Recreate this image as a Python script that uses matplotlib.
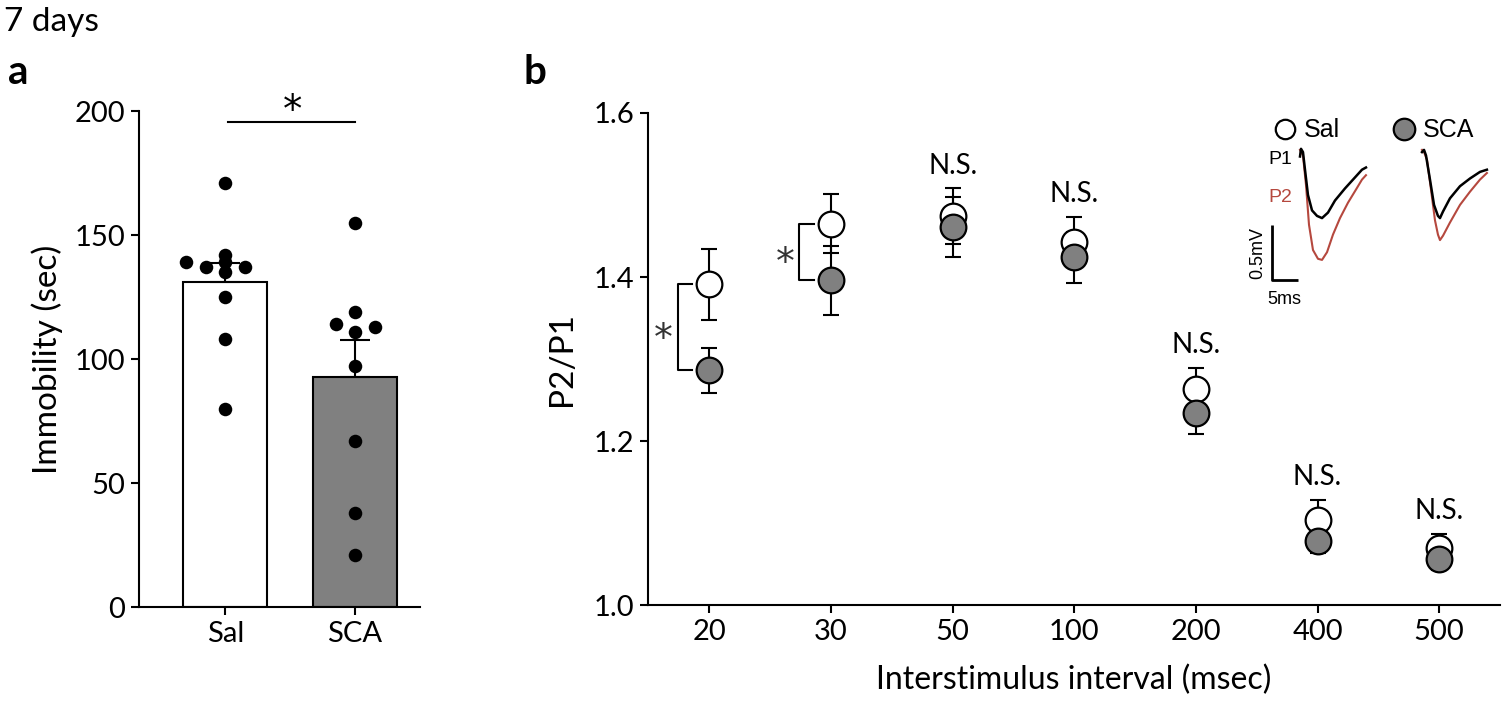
import numpy as np
import matplotlib
matplotlib.use('Agg')
import matplotlib.pyplot as plt

plt.rcParams['font.family'] = ['Lato', 'DejaVu Sans']

# panel a: immobility (sec), 7 days
groups = ['Sal', 'SCA']
bar_means = [131, 92.7]
bar_sems = [7.7, 14.8]
sal_points = [171, 142, 139, 137, 139, 135, 137, 125, 108, 80]
sal_jitter = [0, 0, -1, -0.5, 0, 0, 0.5, 0, 0, 0]
sca_points = [155, 119, 114, 113, 111, 97, 67, 38, 21]
sca_jitter = [0, 0, -0.5, 0.5, 0, 0, 0, 0, 0]

# panel b: paired-pulse ratio
intervals = ['20', '30', '50', '100', '200', '400', '500']
sal_ppr = [1.391, 1.465, 1.474, 1.443, 1.263, 1.104, 1.069]
sal_err = [0.043, 0.036, 0.034, 0.030, 0.026, 0.024, 0.018]
sca_ppr = [1.286, 1.396, 1.461, 1.424, 1.234, 1.078, 1.056]
sca_err = [0.027, 0.042, 0.037, 0.031, 0.025, 0.015, 0.013]
ns_labels = ['', '', 'N.S.', 'N.S.', 'N.S.', 'N.S.', 'N.S.']

# example traces (ms from trace onset, mV)
sal_p1_t = [0, 0.19, 0.56, 0.94, 1.5, 2.26, 3.2, 4.14, 5.26, 6.58, 8.46, 10.34, 11.65, 12.4]
sal_p1_v = [-0.15, -0.08, -0.11, -0.27, -0.5, -0.64, -0.69, -0.71, -0.66, -0.55, -0.44, -0.34, -0.27, -0.25]
sal_p2_t = [0, 0.56, 1.13, 1.69, 2.44, 3.38, 4.14, 5.08, 6.2, 7.52, 9.02, 10.53, 11.65, 12.4]
sal_p2_v = [-0.09, -0.14, -0.41, -0.77, -1.0, -1.08, -1.09, -1.02, -0.86, -0.71, -0.57, -0.45, -0.36, -0.32]
sca_p1_t = [0, 0.38, 0.75, 1.5, 2.26, 3.0, 3.38, 3.95, 5.26, 7.14, 9.02, 10.9, 12.2]
sca_p1_v = [-0.11, -0.09, -0.14, -0.36, -0.59, -0.69, -0.71, -0.65, -0.53, -0.42, -0.35, -0.29, -0.27]
sca_p2_t = [0, 0.38, 0.94, 1.69, 2.44, 3.0, 3.38, 3.95, 5.26, 7.14, 9.02, 10.9, 12.2]
sca_p2_v = [-0.09, -0.11, -0.18, -0.45, -0.73, -0.86, -0.91, -0.87, -0.75, -0.59, -0.47, -0.36, -0.3]

W, H = 1504, 704
GRAY = '#808080'
RED = '#b5483e'
STAR = ['DejaVu Sans']


def px(x, y):
    return x / W, 1 - y / H


def style_axes(ax):
    ax.spines['top'].set_visible(False)
    ax.spines['right'].set_visible(False)
    for s in ['left', 'bottom']:
        ax.spines[s].set_linewidth(1.5)
    ax.tick_params(width=1.5, length=6, labelsize=21, pad=4)


fig = plt.figure(figsize=(15.04, 7.04), dpi=100)

fig.text(*px(4, 22), '7 days', fontsize=24, va='center', ha='left')
fig.text(*px(8, 72), 'a', fontsize=29, fontweight='bold', va='center', ha='left')
fig.text(*px(523, 72), 'b', fontsize=29, fontweight='bold', va='center', ha='left')

# ---- panel a ----
ax = fig.add_axes([139 / W, 1 - 607 / H, (420 - 139) / W, (607 - 111) / H])
xpos = np.arange(len(groups))
ax.bar(xpos, bar_means, width=0.65, color=['white', GRAY], edgecolor='black', linewidth=1.5, zorder=1)
ax.errorbar(xpos, bar_means, yerr=[[0, 0], bar_sems], fmt='none', ecolor='black',
            elinewidth=1.5, capsize=11, capthick=1.5, zorder=2)
ax.scatter(xpos[0] + np.array(sal_jitter) * 0.3, sal_points, s=95, color='black', zorder=3, linewidths=0)
ax.scatter(xpos[1] + np.array(sca_jitter) * 0.3, sca_points, s=95, color='black', zorder=3, linewidths=0)
ax.set_xlim(-0.664, 1.5)
ax.set_ylim(0, 200)
ax.set_yticks([0, 50, 100, 150, 200])
ax.set_xticks(xpos)
ax.set_xticklabels(groups)
ax.set_ylabel('Immobility (sec)', fontsize=24, labelpad=8)
style_axes(ax)
ax.plot([0.02, 1.0], [195.4, 195.4], color='black', lw=1.5, clip_on=False)
ax.text(0.52, 195.4, '*', fontsize=28, family=STAR, ha='center', va='baseline', clip_on=False)

# ---- panel b ----
bx = fig.add_axes([648 / W, 1 - 605 / H, (1500 - 648) / W, (605 - 113) / H])
xi = np.arange(len(intervals))
bx.errorbar(xi, sal_ppr, yerr=sal_err, fmt='none', ecolor='black', elinewidth=1.5,
            capsize=6, capthick=1.5, zorder=2)
bx.errorbar(xi, sca_ppr, yerr=sca_err, fmt='none', ecolor='black', elinewidth=1.5,
            capsize=6, capthick=1.5, zorder=2)
bx.plot(xi, sal_ppr, 'o', ms=18.5, mfc='white', mec='black', mew=1.6, ls='none', zorder=3)
bx.plot(xi, sca_ppr, 'o', ms=18.5, mfc=GRAY, mec='black', mew=1.6, ls='none', zorder=4)
for i, lab in enumerate(ns_labels):
    if lab:
        bx.text(xi[i], sal_ppr[i] + sal_err[i] + 0.012, lab, fontsize=20, ha='center', va='bottom')
# significance brackets
for i in [0, 1]:
    x0, x1 = xi[i] - 0.26, xi[i] - 0.14
    bx.plot([x1, x0, x0, x1], [sal_ppr[i], sal_ppr[i], sca_ppr[i], sca_ppr[i]], color='black', lw=1.5)
    bx.text(xi[i] - 0.38, (sal_ppr[i] + sca_ppr[i]) / 2 - 0.027, '*', fontsize=27, family=STAR,
            ha='center', va='baseline', color='#333333')
bx.set_xlim(-0.505, 6.5)
bx.set_ylim(1.0, 1.6)
bx.set_yticks([1.0, 1.2, 1.4, 1.6])
bx.set_xticks(xi)
bx.set_xticklabels(intervals)
bx.set_ylabel('P2/P1', fontsize=24, labelpad=12)
bx.set_xlabel('Interstimulus interval (msec)', fontsize=23, labelpad=14)
style_axes(bx)

# ---- inset traces ----
ms_px, mv_px = 5.32, 110.0
ix = fig.add_axes([1245 / W, 1 - 320 / H, (1500 - 1245) / W, (320 - 140) / H])
ix.set_xlim(0, (1500 - 1245) / ms_px)
ix.set_ylim(-(320 - 140) / mv_px, 0)
ix.axis('off')
sal_off = (1300 - 1245) / ms_px
sca_off = (1422 - 1245) / ms_px
ix.plot(np.array(sal_p2_t) + sal_off, sal_p2_v, color=RED, lw=1.5)
ix.plot(np.array(sal_p1_t) + sal_off, sal_p1_v, color='black', lw=1.8)
ix.plot(np.array(sca_p2_t) + sca_off, sca_p2_v, color=RED, lw=1.5)
ix.plot(np.array(sca_p1_t) + sca_off, sca_p1_v, color='black', lw=1.8)
# scale bar 5 ms / 0.5 mV
sb_t, sb_v = 5.0, -1.273
ix.plot([sb_t, sb_t, sb_t + 5], [sb_v + 0.5, sb_v, sb_v], color='black', lw=2, solid_capstyle='butt')

arial = ['Liberation Sans', 'DejaVu Sans']
fig.text(*px(1268, 160), 'P1', fontsize=14, family=arial, va='center', ha='left')
fig.text(*px(1268, 198), 'P2', fontsize=14, family=arial, va='center', ha='left', color=RED)
fig.text(*px(1258, 253), '0.5mV', fontsize=13, family=arial, va='center', ha='center', rotation=90)
fig.text(*px(1267, 299), '5ms', fontsize=13, family=arial, va='center', ha='left')

# legend
fig.add_artist(plt.Line2D([1285 / W], [1 - 129 / H], marker='o', ms=14, mfc='white', mec='black', mew=1.6))
fig.text(*px(1304, 130), 'Sal', fontsize=18, family=arial, va='center', ha='left')
fig.add_artist(plt.Line2D([1404 / W], [1 - 129 / H], marker='o', ms=15.5, mfc=GRAY, mec='black', mew=1.6))
fig.text(*px(1423, 130), 'SCA', fontsize=18, family=arial, va='center', ha='left')

fig.savefig('out.png', dpi=100)
